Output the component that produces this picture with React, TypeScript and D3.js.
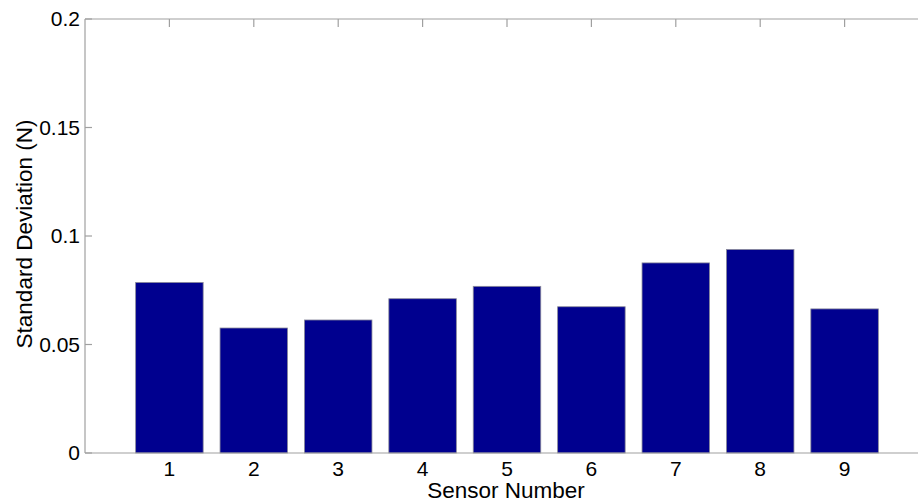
import * as d3 from "d3";
import React, { useRef, useEffect } from "react";

const sensors = [1, 2, 3, 4, 5, 6, 7, 8, 9];
const stdDev = [0.0786, 0.0576, 0.0613, 0.0711, 0.0768, 0.0674, 0.0876, 0.0938, 0.0664];
const yTicks = [0, 0.05, 0.1, 0.15, 0.2];
const yTickLabels = ["0", "0.05", "0.1", "0.15", "0.2"];

const width = 918;
const height = 502;
const margin = { top: 19, left: 85, bottom: 49, rightEdge: 929 };
const barColor = "#00008f";
const axisColor = "#a0a0a0";
const font = "'Liberation Sans', Arial, sans-serif";

export default function App() {
  const ref = useRef<SVGSVGElement>(null);

  useEffect(() => {
    const svg = d3.select(ref.current);
    svg.selectAll("*").remove();

    const x = d3.scaleLinear().domain([0, 10]).range([margin.left, margin.rightEdge]);
    const y = d3
      .scaleLinear()
      .domain([0, 0.2])
      .range([height - margin.bottom, margin.top]);
    const barW = x(0.8) - x(0);

    // bars
    svg
      .append("g")
      .selectAll("rect")
      .data(sensors)
      .join("rect")
      .attr("x", (d) => x(d) - barW / 2)
      .attr("width", barW)
      .attr("y", (d, i) => y(stdDev[i]))
      .attr("height", (d, i) => y(0) - y(stdDev[i]))
      .attr("fill", barColor)
      .attr("stroke", "#8a8a9a")
      .attr("stroke-width", 0.8);

    const axes = svg.append("g").attr("stroke", axisColor).attr("stroke-width", 1.2);

    // box lines (right side is off-canvas)
    axes.append("line").attr("x1", x(0)).attr("x2", x(10)).attr("y1", y(0)).attr("y2", y(0));
    axes.append("line").attr("x1", x(0)).attr("x2", x(10)).attr("y1", y(0.2)).attr("y2", y(0.2));
    axes.append("line").attr("x1", x(0)).attr("x2", x(0)).attr("y1", y(0)).attr("y2", y(0.2));

    // inward ticks: left and top
    axes
      .selectAll(".ytick")
      .data(yTicks)
      .join("line")
      .attr("x1", x(0))
      .attr("x2", x(0) + 7)
      .attr("y1", (d) => y(d))
      .attr("y2", (d) => y(d));

    axes
      .selectAll(".xtick")
      .data(sensors)
      .join("line")
      .attr("x1", (d) => x(d))
      .attr("x2", (d) => x(d))
      .attr("y1", y(0.2))
      .attr("y2", y(0.2) + 8);

    const text = svg.append("g").attr("font-family", font).attr("fill", "#000");

    text
      .selectAll(".ylab")
      .data(yTicks)
      .join("text")
      .attr("x", x(0) - 5)
      .attr("y", (d) => y(d) + 7)
      .attr("text-anchor", "end")
      .attr("font-size", 21)
      .text((d, i) => yTickLabels[i]);

    text
      .selectAll(".xlab")
      .data(sensors)
      .join("text")
      .attr("x", (d) => x(d))
      .attr("y", 476)
      .attr("text-anchor", "middle")
      .attr("font-size", 21)
      .text((d) => String(d));

    text
      .append("text")
      .attr("x", 506)
      .attr("y", 498)
      .attr("text-anchor", "middle")
      .attr("font-size", 22.5)
      .text("Sensor Number");

    text
      .append("text")
      .attr("transform", `translate(32, ${(y(0) + y(0.2)) / 2 - 2}) rotate(-90)`)
      .attr("text-anchor", "middle")
      .attr("font-size", 22.5)
      .text("Standard Deviation (N)");
  }, []);

  return (
    <svg
      ref={ref}
      width={width}
      height={height}
      style={{ position: "absolute", left: 0, top: 0, background: "#fff" }}
    ></svg>
  );
}
